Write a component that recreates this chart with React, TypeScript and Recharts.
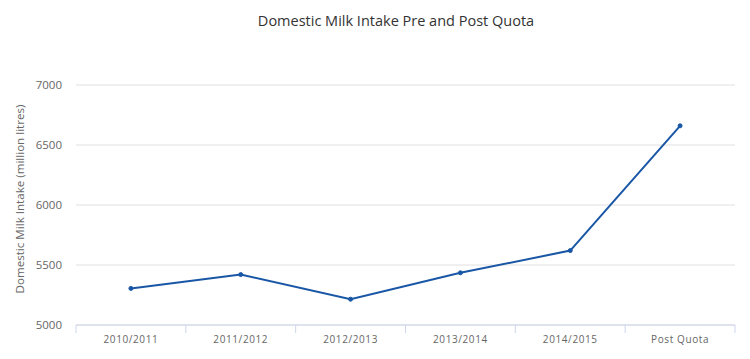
import React from "react";
import { LineChart, Line, XAxis, YAxis, CartesianGrid } from "recharts";

const categories = ["2010/2011", "2011/2012", "2012/2013", "2013/2014", "2014/2015", "Post Quota"];
const intake = [5305, 5420, 5215, 5435, 5620, 6660];
const yTicks = [5000, 5500, 6000, 6500, 7000];
const boundaryTicks = [0, 1, 2, 3, 4, 5, 6];
const labelTicks = categories.map((_, i) => i + 0.5);

const data = categories.map((c, i) => ({ category: c, intake: intake[i], pos: i + 0.5 }));

const FONT = "'Open Sans', 'DejaVu Sans', sans-serif";

export default function App() {
  return (
    <div style={{ position: "absolute", left: 0, top: 0, width: 750, height: 359, background: "#fff", fontFamily: FONT }}>
      <div
        style={{
          position: "absolute",
          left: 0,
          width: 792,
          top: 11,
          textAlign: "center",
          fontSize: 14.5,
          color: "#333",
          fontFamily: FONT,
        }}
      >
        Domestic Milk Intake Pre and Post Quota
      </div>
      <LineChart width={750} height={359} data={data} margin={{ top: 85, right: 15, bottom: 0, left: 0 }}>
        <CartesianGrid horizontal vertical={false} stroke="#e0e0e0" />
        <XAxis
          xAxisId="bounds"
          dataKey="pos"
          type="number"
          domain={[0, 6]}
          ticks={boundaryTicks}
          tick={() => <g />}
          height={1}
          axisLine={{ stroke: "#ccd6eb" }}
          tickLine={{ stroke: "#ccd6eb" }}
          tickSize={8}
        />
        <XAxis
          xAxisId="labels"
          dataKey="pos"
          type="number"
          domain={[0, 6]}
          ticks={labelTicks}
          tickFormatter={(v: number) => categories[Math.round(v - 0.5)]}
          height={33}
          axisLine={false}
          tickLine={false}
          tickSize={0}
          tickMargin={10}
          tick={{ fill: "#666", fontSize: 10, fontFamily: FONT, letterSpacing: 0.6 }}
          interval={0}
        />
        <YAxis
          domain={[5000, 7000]}
          ticks={yTicks}
          width={76}
          axisLine={false}
          tickLine={false}
          tickSize={0}
          tickMargin={14}
          tick={{ fill: "#666", fontSize: 11.5, fontFamily: FONT }}
          label={{
            value: "Domestic Milk Intake (million litres)",
            angle: -90,
            position: "center",
            dx: -18,
            dy: -6,
            fill: "#666",
            fontSize: 11.6,
            fontFamily: FONT,
          }}
        />
        <Line
          xAxisId="bounds"
          dataKey="intake"
          stroke="#1957a6"
          strokeWidth={2}
          dot={{ r: 2, fill: "#1957a6", stroke: "#1957a6", strokeWidth: 1 }}
          isAnimationActive={false}
        />
      </LineChart>
    </div>
  );
}
